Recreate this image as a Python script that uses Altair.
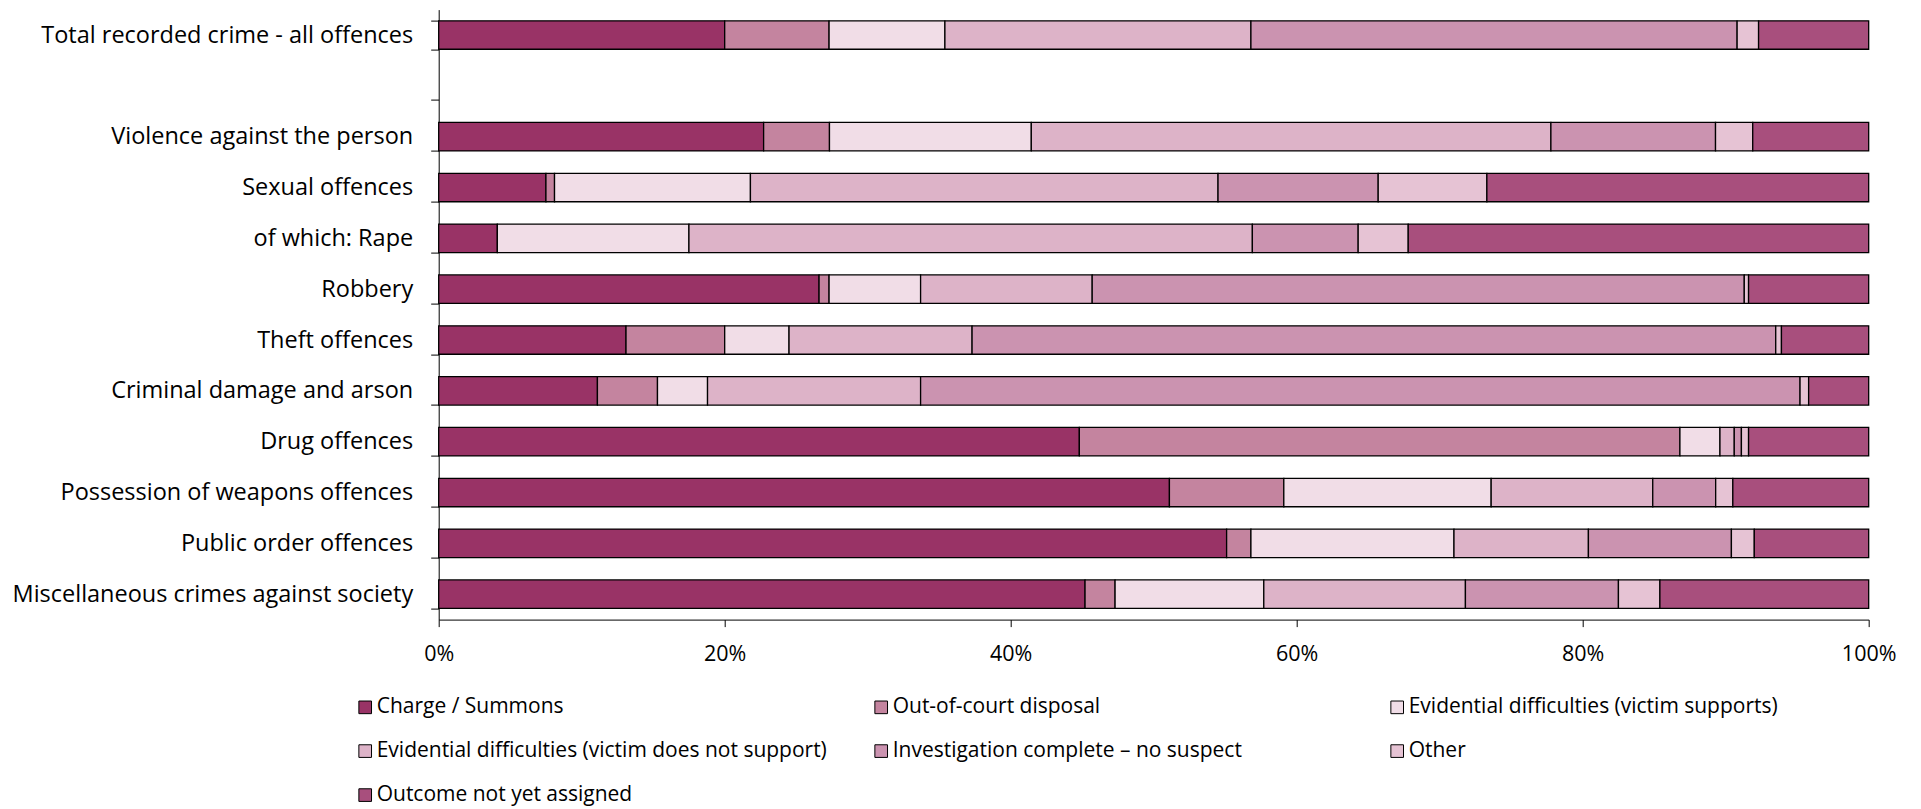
import altair as alt
import pandas as pd

categories = [
    "Total recorded crime - all offences",
    " ",
    "Violence against the person",
    "Sexual offences",
    "of which: Rape",
    "Robbery",
    "Theft offences",
    "Criminal damage and arson",
    "Drug offences",
    "Possession of weapons offences",
    "Public order offences",
    "Miscellaneous crimes against society",
]
data_categories = [c for c in categories if c.strip()]

outcomes = [
    "Charge / Summons",
    "Out-of-court disposal",
    "Evidential difficulties (victim supports)",
    "Evidential difficulties (victim does not support)",
    "Investigation complete \u2013 no suspect",
    "Other",
    "Outcome not yet assigned",
]
colors = ["#993366", "#C4849F", "#F1DDE7", "#DDB3C8", "#CB93B0", "#E6C3D4", "#A84F7D"]

charge = [20.0, 22.7, 7.5, 4.1, 26.6, 13.1, 11.1, 44.8, 51.1, 55.1, 45.2]
out_of_court = [7.3, 4.6, 0.6, 0.0, 0.7, 6.9, 4.2, 42.0, 8.0, 1.7, 2.1]
evid_supports = [8.1, 14.1, 13.7, 13.4, 6.4, 4.5, 3.5, 2.8, 14.5, 14.2, 10.4]
evid_not_support = [21.4, 36.3, 32.7, 39.4, 12.0, 12.8, 14.9, 1.0, 11.3, 9.4, 14.1]
no_suspect = [34.0, 11.5, 11.2, 7.4, 45.6, 56.2, 61.5, 0.5, 4.4, 10.0, 10.7]
other = [1.5, 2.6, 7.6, 3.5, 0.3, 0.4, 0.6, 0.5, 1.2, 1.6, 2.9]
not_assigned = [7.7, 8.1, 26.7, 32.2, 8.4, 6.1, 4.2, 8.4, 9.5, 8.0, 14.6]

series = [charge, out_of_court, evid_supports, evid_not_support, no_suspect, other, not_assigned]

rows = []
for oi, (name, vals) in enumerate(zip(outcomes, series)):
    for cat, v in zip(data_categories, vals):
        if v > 0:
            rows.append({"category": cat, "outcome": name, "order": oi, "value": v})
df = pd.DataFrame(rows)

FONT = "Open Sans"

chart = (
    alt.Chart(df)
    .mark_bar(stroke="black", strokeWidth=1.3)
    .encode(
        y=alt.Y(
            "category:N",
            sort=categories,
            scale=alt.Scale(domain=categories, paddingInner=0.44, paddingOuter=0.22),
            axis=alt.Axis(
                title=None,
                tickBand="extent",
                tickSize=8,
                tickColor="black",
                domainColor="black",
                grid=False,
                labelPadding=18,
                labelFontSize=23.5,
                labelFont=FONT,
                labelColor="black",
                labelLimit=500,
            ),
        ),
        x=alt.X(
            "value:Q",
            stack="normalize",
            scale=alt.Scale(domain=[0, 1]),
            axis=alt.Axis(
                title=None,
                format=".0%",
                values=[0, 0.2, 0.4, 0.6, 0.8, 1.0],
                grid=False,
                tickSize=7,
                tickColor="black",
                domainColor="black",
                labelPadding=17,
                labelFontSize=21.5,
                labelFont=FONT,
                labelColor="black",
                labelFlush=False,
            ),
        ),
        color=alt.Color(
            "outcome:N",
            sort=outcomes,
            scale=alt.Scale(domain=outcomes, range=colors),
            legend=alt.Legend(
                title=None,
                orient="none",
                legendX=-84,
                legendY=687,
                direction="horizontal",
                columns=3,
                gridAlign="all",
                columnPadding=43,
                rowPadding=22,
                symbolType="square",
                symbolSize=160,
                symbolStrokeColor="black",
                symbolStrokeWidth=1,
                labelFontSize=21,
                labelFont=FONT,
                labelColor="black",
                labelOffset=1,
                labelLimit=600,
                padding=0,
            ),
        ),
        order=alt.Order("order:Q"),
    )
    .properties(
        width=1430,
        height=610,
        background="white",
        autosize=alt.AutoSizeParams(type="none"),
        padding={"left": 430.7, "top": 1.6, "right": 40, "bottom": 196},
    )
    .configure_axis(grid=False)
    .configure_view(strokeWidth=0, stroke="transparent", fill="white")
)

chart.save("out.html", embed_options={"renderer": "svg", "actions": False})
